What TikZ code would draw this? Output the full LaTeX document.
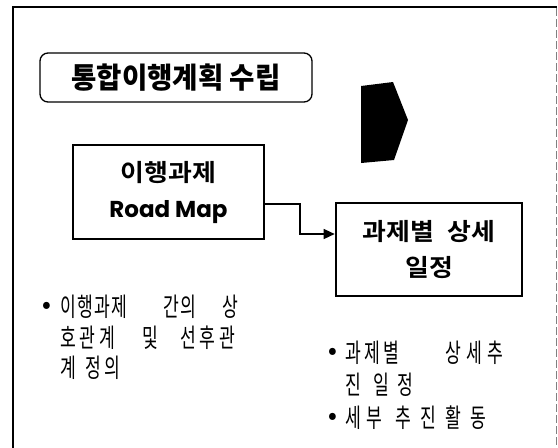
\documentclass[tikz,border=0pt]{standalone}
\usepackage{fontspec}
\usetikzlibrary{arrows.meta}
\newfontfamily\krh{Noto Sans CJK KR Black}[FakeStretch=0.95]
\newfontfamily\krm{Noto Sans CJK KR Bold}[FakeStretch=1.08]
\newfontfamily\krt{Noto Sans CJK KR}[FakeStretch=0.66]
\newfontfamily\kru{Noto Sans CJK KR}
\newfontfamily\pop{Poppins}
\makeatletter
% letter-spaced word: #1 = extra gap between letters, #2 = word
\newcommand\lsw[2]{\@tfor\lsw@c:=#2\do{\lsw@c\hspace{#1}}}
% word placed at an offset from the line start
\newcommand\wat[3]{\rlap{\hspace{#1}\lsw{#2}{#3}}}
\makeatother
\begin{document}
\begin{tikzpicture}[x=1pt,y=-1pt,
  headbox/.style={draw, rounded corners=8pt, line width=1.3pt, inner sep=0pt,
    minimum width=272pt, minimum height=49pt, font=\krh\fontsize{29}{30}\selectfont},
  taskbox/.style={draw, line width=2.6pt, inner sep=0pt, align=center,
    font=\krm\fontsize{24}{36}\selectfont},
  conn/.style={line width=1.3pt, -{Triangle[length=11pt,width=10pt]}},
  txt/.style={anchor=base west, inner sep=0pt, font=\krt\fontsize{26}{26}\selectfont},
  bul/.style={inner sep=0pt, font=\kru\bfseries\fontsize{22}{22}\selectfont}
]
\useasboundingbox (0,0) rectangle (558,448);
\fill[white] (0,0) rectangle (558,448);
% frame
\draw[line width=1.8pt] (13,448) -- (13,7) -- (557,7);
\draw[gray, line width=0.8pt, dash pattern=on 8pt off 3pt] (556,8) -- (556,448);
% heading
\node[headbox] (h) at (176,77.5) {통합이행계획 수립};
% black arrow
\fill (361,86) -- (393,82) -- (408,120) -- (394,160) -- (361,163) -- cycle;
% boxes
\node[taskbox, minimum width=191pt, minimum height=94pt] (b1) at (168.5,192)
  {이행과제\\{\pop\bfseries\fontsize{23}{36}\selectfont Road Map}};
\node[taskbox, minimum width=186pt, minimum height=93pt] (b2) at (429,249.5)
  {과제별\hspace{0.55em}상세\\일정};
\coordinate (k) at (300,234);
\draw[conn] ([yshift=-12pt]b1.east) -| (k) -- (k -| b2.west);
% left bullet text
\node[bul] (bl1) at (47,307) {•};
\node[txt] (l1) at (60,316) {\wat{0pt}{1pt}{이행과제}\wat{103pt}{1pt}{간의}\wat{162pt}{1pt}{상}\hspace{180pt}};
\node[txt] (l2) at (60,347) {\wat{0pt}{3.5pt}{호관계}\wat{82pt}{3.5pt}{및}\wat{120pt}{3.5pt}{선후관}\hspace{180pt}};
\node[txt] (l3) at (60,377) {\wat{0pt}{3pt}{계}\wat{25pt}{3pt}{정의}\hspace{62pt}};
% right bullet text
\node[bul] (br1) at (333,353) {•};
\node[txt] (r1) at (345,362) {\wat{0pt}{3pt}{과제별}\wat{100pt}{5pt}{상세추}\hspace{162pt}};
\node[txt] (r2) at (345,394) {\wat{0pt}{8pt}{진}\wat{28pt}{8pt}{일정}\hspace{72pt}};
\node[bul] (br2) at (333,418) {•};
\node[txt] (r3) at (345,427) {\wat{0pt}{5pt}{세부}\wat{50pt}{9pt}{추진활동}\hspace{150pt}};
\end{tikzpicture}
\end{document}
